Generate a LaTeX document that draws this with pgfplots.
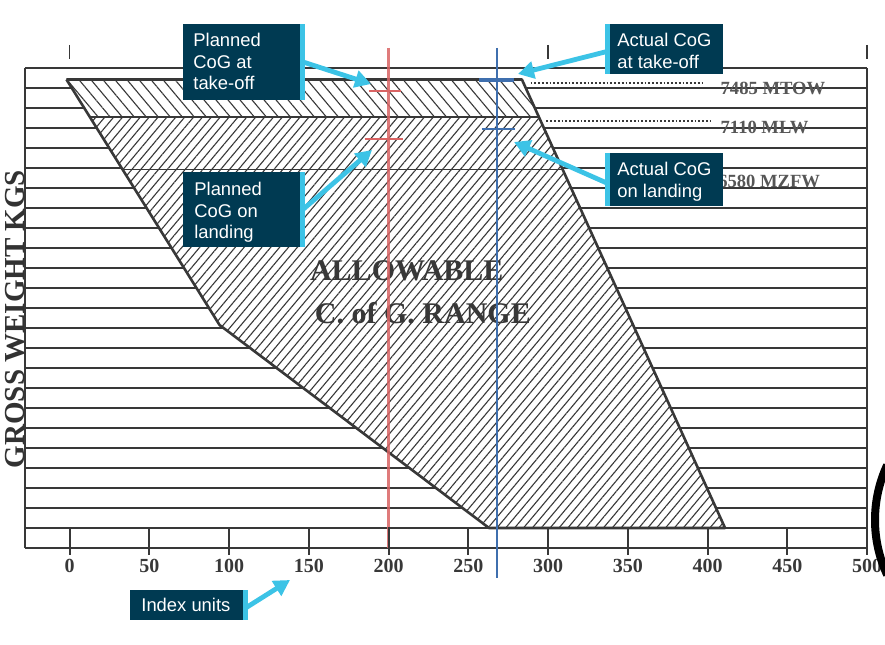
\documentclass[border=0pt]{standalone}
\usepackage{fontspec}
\setmainfont{Liberation Serif}
\newfontfamily\boxfont{Liberation Sans}
\usepackage{pgfplots}
\pgfplotsset{compat=1.18}
\usetikzlibrary{patterns.meta,arrows.meta}

\definecolor{navy}{HTML}{003A52}
\definecolor{callout}{HTML}{3CC3E6}
\definecolor{ink}{HTML}{383838}
\definecolor{cogred}{HTML}{D96464}
\definecolor{cogblue}{HTML}{3F6FAE}

\begin{document}
\begin{tikzpicture}
\path[use as bounding box] (0,0) rectangle (442.5pt,322pt);
\begin{axis}[
  at={(12.5pt,48pt)}, anchor=south west,
  width=421pt, height=240pt, scale only axis,
  xmin=-28, xmax=500, ymin=2800, ymax=7600,
  clip=false,
  axis line style={draw=none},
  ytick={2800,3000,...,7600}, yticklabels={},
  ymajorgrids, grid style={ink, line width=0.75pt},
  xtick={0,50,...,500},
  major tick length=0pt, tick style={draw=none},
  xticklabel style={font=\fontsize{10}{12}\selectfont\bfseries, text=ink, yshift=-2pt},
  /pgf/number format/assume math mode=true,
]
% envelope background
\addplot[fill=white, draw=none] coordinates
  {(-2,7485) (283.6,7485) (411,3000) (263,3000) (94,5030)};
% hatching: take-off band and landing region
\addplot[draw=none, pattern={Lines[angle=-50, distance=4.6pt, line width=0.55pt]}, pattern color=ink]
  coordinates {(-2,7485) (283.6,7485) (294.3,7110) (12.7,7110)};
\addplot[draw=none, pattern={Lines[angle=50, distance=3.4pt, line width=0.55pt]}, pattern color=ink]
  coordinates {(12.7,7110) (294.3,7110) (411,3000) (263,3000) (94,5030)};
% envelope outline
\addplot[ink, line width=1.3pt, line join=round] coordinates
  {(-2,7485) (283.6,7485) (411,3000) (263,3000) (94,5030) (-2,7485)};
\addplot[ink, line width=1pt] coordinates {(12.7,7110) (294.3,7110)};
\addplot[ink, line width=0.5pt] coordinates {(33.4,6580) (309.3,6580)};
% leaders
\addplot[ink, densely dotted, line width=0.9pt] coordinates {(289,7450) (398,7450)};
\addplot[ink, densely dotted, line width=0.9pt] coordinates {(299,7070) (402,7070)};
% frame
\draw[ink, line width=0.8pt] (axis cs:-28,2800) -- (axis cs:-28,7600);
\draw[ink, line width=0.8pt] (axis cs:500,2800) -- (axis cs:500,7600);
% weight limits
\node[anchor=west, inner sep=0pt, font=\fontsize{9.3}{11}\selectfont\bfseries, text=ink!85] at (axis cs:408,7400) {7485 MTOW};
\node[anchor=west, inner sep=0pt, font=\fontsize{9.3}{11}\selectfont\bfseries, text=ink!85] at (axis cs:408,7010) {7110 MLW};
\node[anchor=west, inner sep=0pt, font=\fontsize{9.3}{11}\selectfont\bfseries, text=ink!85] at (axis cs:406.5,6470) {6580 MZFW};
\node[font=\fontsize{15}{18}\selectfont\bfseries, text=ink] at (axis cs:211.4,5570) {ALLOWABLE};
\node[font=\fontsize{15}{18}\selectfont\bfseries, text=ink] at (axis cs:221.5,5150) {C. of G. RANGE};
% planned CoG (red)
\addplot[cogred, line width=1.1pt, opacity=0.85] coordinates {(200,7800) (200,2800)};
\addplot[cogred, line width=1.1pt] coordinates {(187.6,7370) (207.7,7370)};
\addplot[cogred, line width=1.1pt] coordinates {(185,6890) (209,6890)};
% actual CoG (blue)
\addplot[cogblue, line width=1.1pt] coordinates {(268,7800) (268,2500)};
\addplot[cogblue, line width=1.8pt] coordinates {(257,7480) (278.5,7480)};
\addplot[cogblue, line width=1.1pt] coordinates {(258.5,6990) (279,6990)};
\end{axis}

% annotations, in pixel units from the top left
\begin{scope}[x=0.5pt, y=-0.5pt, yshift=322pt,
  boxtxt/.style={anchor=north west, inner sep=0pt, align=left, text=white,
    font=\boxfont\fontsize{9.2}{10.8}\selectfont},
  arr/.style={callout, line width=2.4pt, -{Triangle[length=8pt,width=8.5pt]}}]
% index scale ticks and top marks
\foreach \i in {0,...,10} \draw[ink, line width=1pt] ({69.65+79.735*\i},527) -- ++(0,28);
\foreach \px in {69.65,548,867} \draw[ink, line width=0.6pt] (\px,45) -- (\px,59);

\node[rotate=90, font=\fontsize{14.5}{16}\selectfont\bfseries, text=ink!90!black] at (15,319) {GROSS WEIGHT KGS};

\draw[arr] (300,61) -- (371,84);
\draw[arr] (300,212) -- (372,150);
\draw[arr] (609,51) -- (518,74);
\draw[arr] (609,184) -- (514,142);
\draw[arr] (244,609) -- (290,580);

\fill[navy] (183,24) rectangle (305,100);
\fill[callout] (300,24) rectangle (305,100);
\node[boxtxt] at (193,33) {Planned\\CoG at\\take-off};

\fill[navy] (183,172) rectangle (305,247);
\fill[callout] (300,172) rectangle (305,247);
\node[boxtxt] at (194,182) {Planned\\CoG on\\landing};

\fill[navy] (605,24) rectangle (723,74);
\fill[callout] (605,24) rectangle (610,74);
\node[boxtxt] at (617,33) {Actual CoG\\at take-off};

\fill[navy] (605,153) rectangle (723,206);
\fill[callout] (605,153) rectangle (610,206);
\node[boxtxt] at (617,162) {Actual CoG\\on landing};

\fill[navy] (130,590) rectangle (248,620);
\fill[callout] (243,590) rectangle (248,620);
\node[anchor=west, inner sep=0pt, text=white, font=\boxfont\fontsize{9.2}{10.8}\selectfont] at (141,605) {Index units};

\draw[black, line width=4pt] (1005,520) ++(155:130) arc (155:205:130);
\end{scope}
\end{tikzpicture}
\end{document}
